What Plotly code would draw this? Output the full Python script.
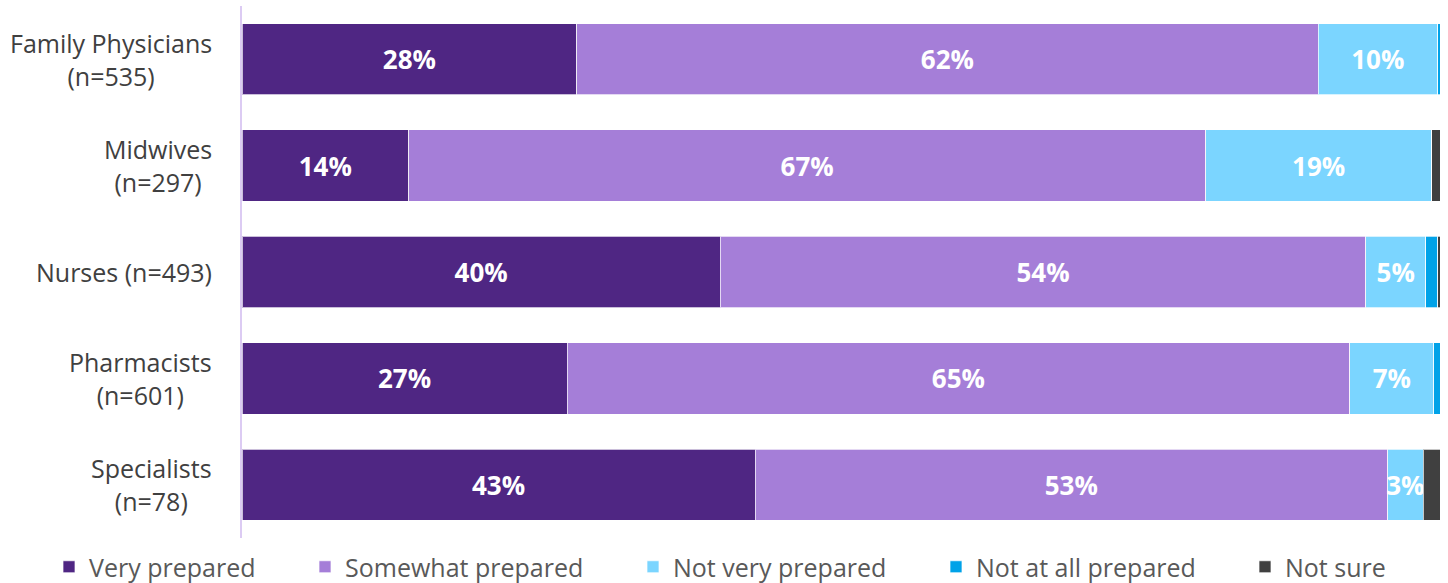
import plotly.graph_objects as go

# Survey groups, top to bottom
groups = ["Family Physicians", "Midwives", "Nurses", "Pharmacists", "Specialists"]
group_labels = ["Family Physicians<br>(n=535)", "Midwives<br>(n=297)", "Nurses (n=493)",
                "Pharmacists<br>(n=601)", "Specialists<br>(n=78)"]

# Share of respondents (%) per preparedness level
very_prepared = [28, 14, 40, 27, 43]
somewhat_prepared = [62, 67, 54, 65, 53]
not_very_prepared = [10, 19, 5, 7, 3]
not_at_all_prepared = [0.2, 0.0, 1.0, 0.5, 0.0]
not_sure = [0.0, 0.7, 0.2, 0.0, 1.4]

series = [
    ("Very prepared", very_prepared, "#4F2683", True),
    ("Somewhat prepared", somewhat_prepared, "#A57ED8", True),
    ("Not very prepared", not_very_prepared, "#7BD5FF", True),
    ("Not at all prepared", not_at_all_prepared, "#00A2E8", False),
    ("Not sure", not_sure, "#404040", False),
]

FONT = "'Open Sans', Lato, sans-serif"

fig = go.Figure()
legend_ids = ["legend", "legend2", "legend3", "legend4", "legend5"]
for (name, vals, color, labelled), lg in zip(series, legend_ids):
    text = [f"{v:g}%" if labelled and v >= 1 else "" for v in vals]
    fig.add_trace(go.Bar(
        name=name,
        y=groups,
        x=vals,
        orientation="h",
        marker=dict(color=color, line=dict(color="rgba(255,255,255,0.7)", width=1)),
        text=text,
        textposition="inside",
        insidetextanchor="middle",
        textangle=0,
        textfont=dict(family=FONT, size=26, color="white", weight="bold"),
        legend=lg,
        hoverinfo="skip",
    ))

# Category labels, centred line by line and right-aligned against the axis
for g, lab in zip(groups, group_labels):
    fig.add_annotation(
        x=0, xref="paper", y=g, yref="y",
        text=lab, showarrow=False,
        xanchor="right", yanchor="middle", align="center",
        xshift=-28,
        font=dict(family=FONT, size=25, color="#404040"),
    )

legend_text_x = [91, 347, 675, 978, 1287]
layout_legends = {}
for lg, tx in zip(legend_ids, legend_text_x):
    layout_legends[lg] = dict(
        xref="container", yref="container",
        x=(tx - 42) / 1448, y=16 / 583,
        xanchor="left", yanchor="middle",
        orientation="h",
        bgcolor="rgba(0,0,0,0)",
        font=dict(family=FONT, size=25, color="#595959"),
        itemclick=False, itemdoubleclick=False,
    )

fig.update_layout(
    width=1448, height=583,
    margin=dict(l=242, r=8, t=6, b=45),
    paper_bgcolor="white", plot_bgcolor="white",
    barmode="stack", barnorm="percent", bargap=0.33,
    uniformtext=dict(minsize=26, mode="show"),
    xaxis=dict(range=[0, 100], visible=False, fixedrange=True),
    yaxis=dict(
        autorange="reversed", showticklabels=False, ticks="",
        showline=True, linecolor="#DCCBF3", linewidth=2,
        showgrid=False, zeroline=False, fixedrange=True,
    ),
    showlegend=True,
    **layout_legends,
)

fig.write_html("out.html", config={"displayModeBar": False})
